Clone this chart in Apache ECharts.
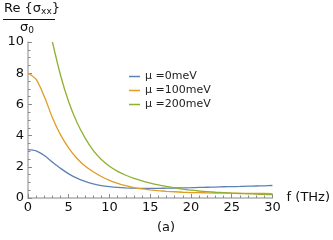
<!DOCTYPE html>
<html>
<head>
<meta charset="utf-8">
<script src="https://cdn.jsdelivr.net/npm/echarts@6/dist/echarts.min.js"></script>
<style>
html,body{margin:0;padding:0;background:#fff;}
#c{width:333px;height:240px;}
</style>
</head>
<body>
<div id="c"></div>
<script>
var freq = [0,1,2,3,4,5,6,7,8,9,10,11,12,13,14,15,16,17,18,19,20,21,22,23,24,25,26,27,28,29,30];
var mu0 = [3.10,3.02,2.72,2.30,1.90,1.55,1.27,1.06,0.91,0.80,0.73,0.68,0.65,0.63,0.62,0.62,0.62,0.63,0.64,0.65,0.66,0.68,0.69,0.70,0.72,0.73,0.74,0.76,0.77,0.78,0.80];
var mu100 = [8.00,7.60,6.50,5.15,4.05,3.20,2.55,2.05,1.68,1.38,1.13,0.94,0.79,0.67,0.58,0.52,0.47,0.43,0.40,0.37,0.35,0.34,0.33,0.32,0.32,0.31,0.30,0.30,0.29,0.29,0.28];
var freq200 = [3,4,5,6,7,8,9,10,11,12,13,14,15,16,17,18,19,20,21,22,23,24,25,26,27,28,29,30];
var mu200 = [10.0,7.85,6.15,4.85,3.85,3.05,2.47,2.04,1.71,1.46,1.26,1.10,0.96,0.84,0.74,0.65,0.57,0.50,0.45,0.41,0.37,0.34,0.31,0.29,0.27,0.25,0.23,0.22];
var seriesNames = ['μ =0meV','μ =100meV','μ =200meV'];
var xTicks = [0,5,10,15,20,25,30];
var yTicks = [0,2,4,6,8,10];

function pairs(xs, ys){ return xs.map(function(x,i){ return [x, ys[i]]; }); }

var chart = echarts.init(document.getElementById('c'), null, {renderer:'canvas'});
var font = 'DejaVu Sans';
var axisGray = '#b0b0b0';
var tickGray = '#8a8a8a';
chart.setOption({
  animation:false,
  grid:{left:28,right:51,top:42,bottom:42,containLabel:false},
  legend:{
    orient:'vertical', left:124, top:66, itemGap:3,
    itemWidth:11, itemHeight:1.5, icon:'rect',
    textStyle:{fontFamily:font,fontSize:11,color:'#222',padding:[0,0,0,0]},
    data:seriesNames
  },
  xAxis:{
    type:'value', min:0, max:30, interval:5,
    name:'f (THz)', nameLocation:'end', nameGap:4,
    nameTextStyle:{fontFamily:font,fontSize:13,color:'#111',verticalAlign:'middle',align:'left',padding:[0,0,0,0]},
    axisLine:{show:true,onZero:false,lineStyle:{color:axisGray,width:1.5}},
    axisTick:{show:true,inside:true,length:4,lineStyle:{color:tickGray,width:1}},
    minorTick:{show:true,splitNumber:5,length:2.5,lineStyle:{color:tickGray,width:1}},
    axisLabel:{fontFamily:font,fontSize:13,color:'#111',margin:3,
      formatter:function(v){return xTicks.indexOf(v)>=0?String(v):'';}},
    splitLine:{show:false}
  },
  yAxis:{
    type:'value', min:0, max:10, interval:2,
    axisLine:{show:true,lineStyle:{color:axisGray,width:1.5}},
    axisTick:{show:true,inside:true,length:4,lineStyle:{color:tickGray,width:1}},
    minorTick:{show:true,splitNumber:4,length:2.5,lineStyle:{color:tickGray,width:1}},
    axisLabel:{fontFamily:font,fontSize:13,color:'#111',margin:4,
      formatter:function(v){return yTicks.indexOf(v)>=0?String(v):'';}},
    splitLine:{show:false}
  },
  series:[
    {name:seriesNames[0],type:'line',data:pairs(freq,mu0),smooth:0.3,showSymbol:false,color:'#5E81B5',lineStyle:{width:1.3},z:3},
    {name:seriesNames[1],type:'line',data:pairs(freq,mu100),smooth:0.3,showSymbol:false,color:'#E19C24',lineStyle:{width:1.3},z:3},
    {name:seriesNames[2],type:'line',data:pairs(freq200,mu200),smooth:0.3,showSymbol:false,color:'#8FB032',lineStyle:{width:1.3},z:3}
  ],
  graphic:[
    {type:'text',left:4,top:2,style:{
      text:'Re {σ{s|xx}}',
      rich:{s:{fontSize:9,fontFamily:font,fill:'#111',verticalAlign:'bottom',padding:[6,0,0,0]}},
      font:'13px DejaVu Sans',fill:'#111'}},
    {type:'line',shape:{x1:3,y1:19.5,x2:55,y2:19.5},style:{stroke:'#111',lineWidth:1}},
    {type:'text',left:20,top:21,style:{
      text:'σ{s|0}',
      rich:{s:{fontSize:9,fontFamily:font,fill:'#111',padding:[6,0,0,0]}},
      font:'13px DejaVu Sans',fill:'#111'}},
    {type:'text',left:157,top:221,style:{text:'(a)',font:'13px DejaVu Sans',fill:'#111'}}
  ]
});
</script>
</body>
</html>
